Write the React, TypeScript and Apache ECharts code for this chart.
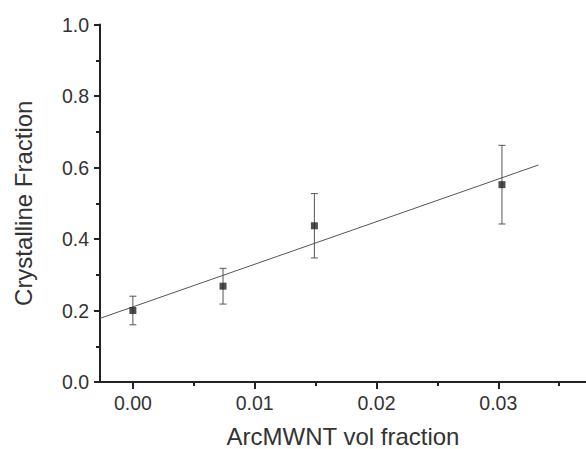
import React, { useEffect, useRef } from "react";
import * as echarts from "echarts";

const xValues = [0.0, 0.0074, 0.0149, 0.0303];
const yValues = [0.2, 0.268, 0.437, 0.552];
const yErrors = [0.04, 0.05, 0.09, 0.11];
const fitLine = [
  [-0.0027, 0.178],
  [0.0333, 0.607],
];
const xMajorTicks = [0, 0.01, 0.02, 0.03];
const xMinorTicks = [0.005, 0.015, 0.025, 0.035];

const FONT = '"Liberation Sans", Arial, sans-serif';
const AXIS_COLOR = "#222";
const TEXT_COLOR = "#333";

export default function App() {
  const ref = useRef<HTMLDivElement>(null);
  useEffect(() => {
    if (!ref.current) return;
    const chart = echarts.init(ref.current, null, { renderer: "svg" });
    const points = xValues.map((x, i) => [x, yValues[i]]);
    const errData = xValues.map((x, i) => [x, yValues[i] - yErrors[i], yValues[i] + yErrors[i]]);
    chart.setOption({
      animation: false,
      backgroundColor: "#fff",
      grid: { left: 100, right: 0, top: 24.5, bottom: 67, containLabel: false, outerBoundsMode: "none" },
      xAxis: [
        {
          type: "value",
          min: -0.0027,
          max: 0.0372,
          position: "bottom",
          splitLine: { show: false },
          axisLine: { show: true, onZero: false, lineStyle: { color: AXIS_COLOR, width: 2 } },
          axisTick: { show: true, inside: false, length: 7, customValues: xMajorTicks, lineStyle: { color: AXIS_COLOR, width: 2 } },
          axisLabel: {
            show: true,
            customValues: xMajorTicks,
            formatter: (v: number) => v.toFixed(2),
            fontSize: 19.5,
            fontFamily: FONT,
            color: TEXT_COLOR,
            margin: 11,
          },
          name: "ArcMWNT vol fraction",
          nameLocation: "middle",
          nameGap: 42,
          nameTextStyle: { fontSize: 24, fontFamily: FONT, color: TEXT_COLOR },
        },
        {
          type: "value",
          min: -0.0027,
          max: 0.0372,
          position: "bottom",
          gridIndex: 0,
          splitLine: { show: false },
          axisLine: { show: false },
          axisTick: { show: true, inside: false, length: 4, customValues: xMinorTicks, lineStyle: { color: AXIS_COLOR, width: 2 } },
          axisLabel: { show: false },
        },
      ],
      yAxis: {
        type: "value",
        min: 0,
        max: 1,
        interval: 0.2,
        splitLine: { show: false },
        axisLine: { show: true, onZero: false, lineStyle: { color: AXIS_COLOR, width: 2 } },
        axisTick: { show: true, inside: false, length: 6, lineStyle: { color: AXIS_COLOR, width: 2 } },
        minorTick: { show: true, splitNumber: 2, length: 4, lineStyle: { color: AXIS_COLOR, width: 2 } },
        axisLabel: {
          formatter: (v: number) => v.toFixed(1),
          fontSize: 19.5,
          fontFamily: FONT,
          color: TEXT_COLOR,
          margin: 11,
        },
        name: "Crystalline Fraction",
        nameLocation: "middle",
        nameRotate: 90,
        nameGap: 65,
        nameTextStyle: { fontSize: 24, fontFamily: FONT, color: TEXT_COLOR },
      },
      series: [
        {
          type: "line",
          data: fitLine,
          showSymbol: false,
          symbol: "none",
          lineStyle: { color: "#555", width: 1 },
          z: 2,
        },
        {
          type: "custom",
          data: errData,
          renderItem: (params: any, api: any) => {
            const x = api.value(0);
            const lo = api.coord([x, api.value(1)]);
            const hi = api.coord([x, api.value(2)]);
            const cap = 3.5;
            const style = { stroke: "#555", lineWidth: 1 };
            return {
              type: "group",
              children: [
                { type: "line", shape: { x1: lo[0], y1: lo[1], x2: hi[0], y2: hi[1] }, style },
                { type: "line", shape: { x1: lo[0] - cap, y1: lo[1], x2: lo[0] + cap, y2: lo[1] }, style },
                { type: "line", shape: { x1: hi[0] - cap, y1: hi[1], x2: hi[0] + cap, y2: hi[1] }, style },
              ],
            };
          },
          z: 3,
        },
        {
          type: "scatter",
          data: points,
          symbol: "rect",
          symbolSize: 7,
          itemStyle: { color: "#222" },
          z: 4,
        },
      ],
    });
    return () => chart.dispose();
  }, []);
  return (
    <div
      ref={ref}
      style={{ position: "fixed", left: 0, top: 0, width: 586, height: 449 }}
    />
  );
}
